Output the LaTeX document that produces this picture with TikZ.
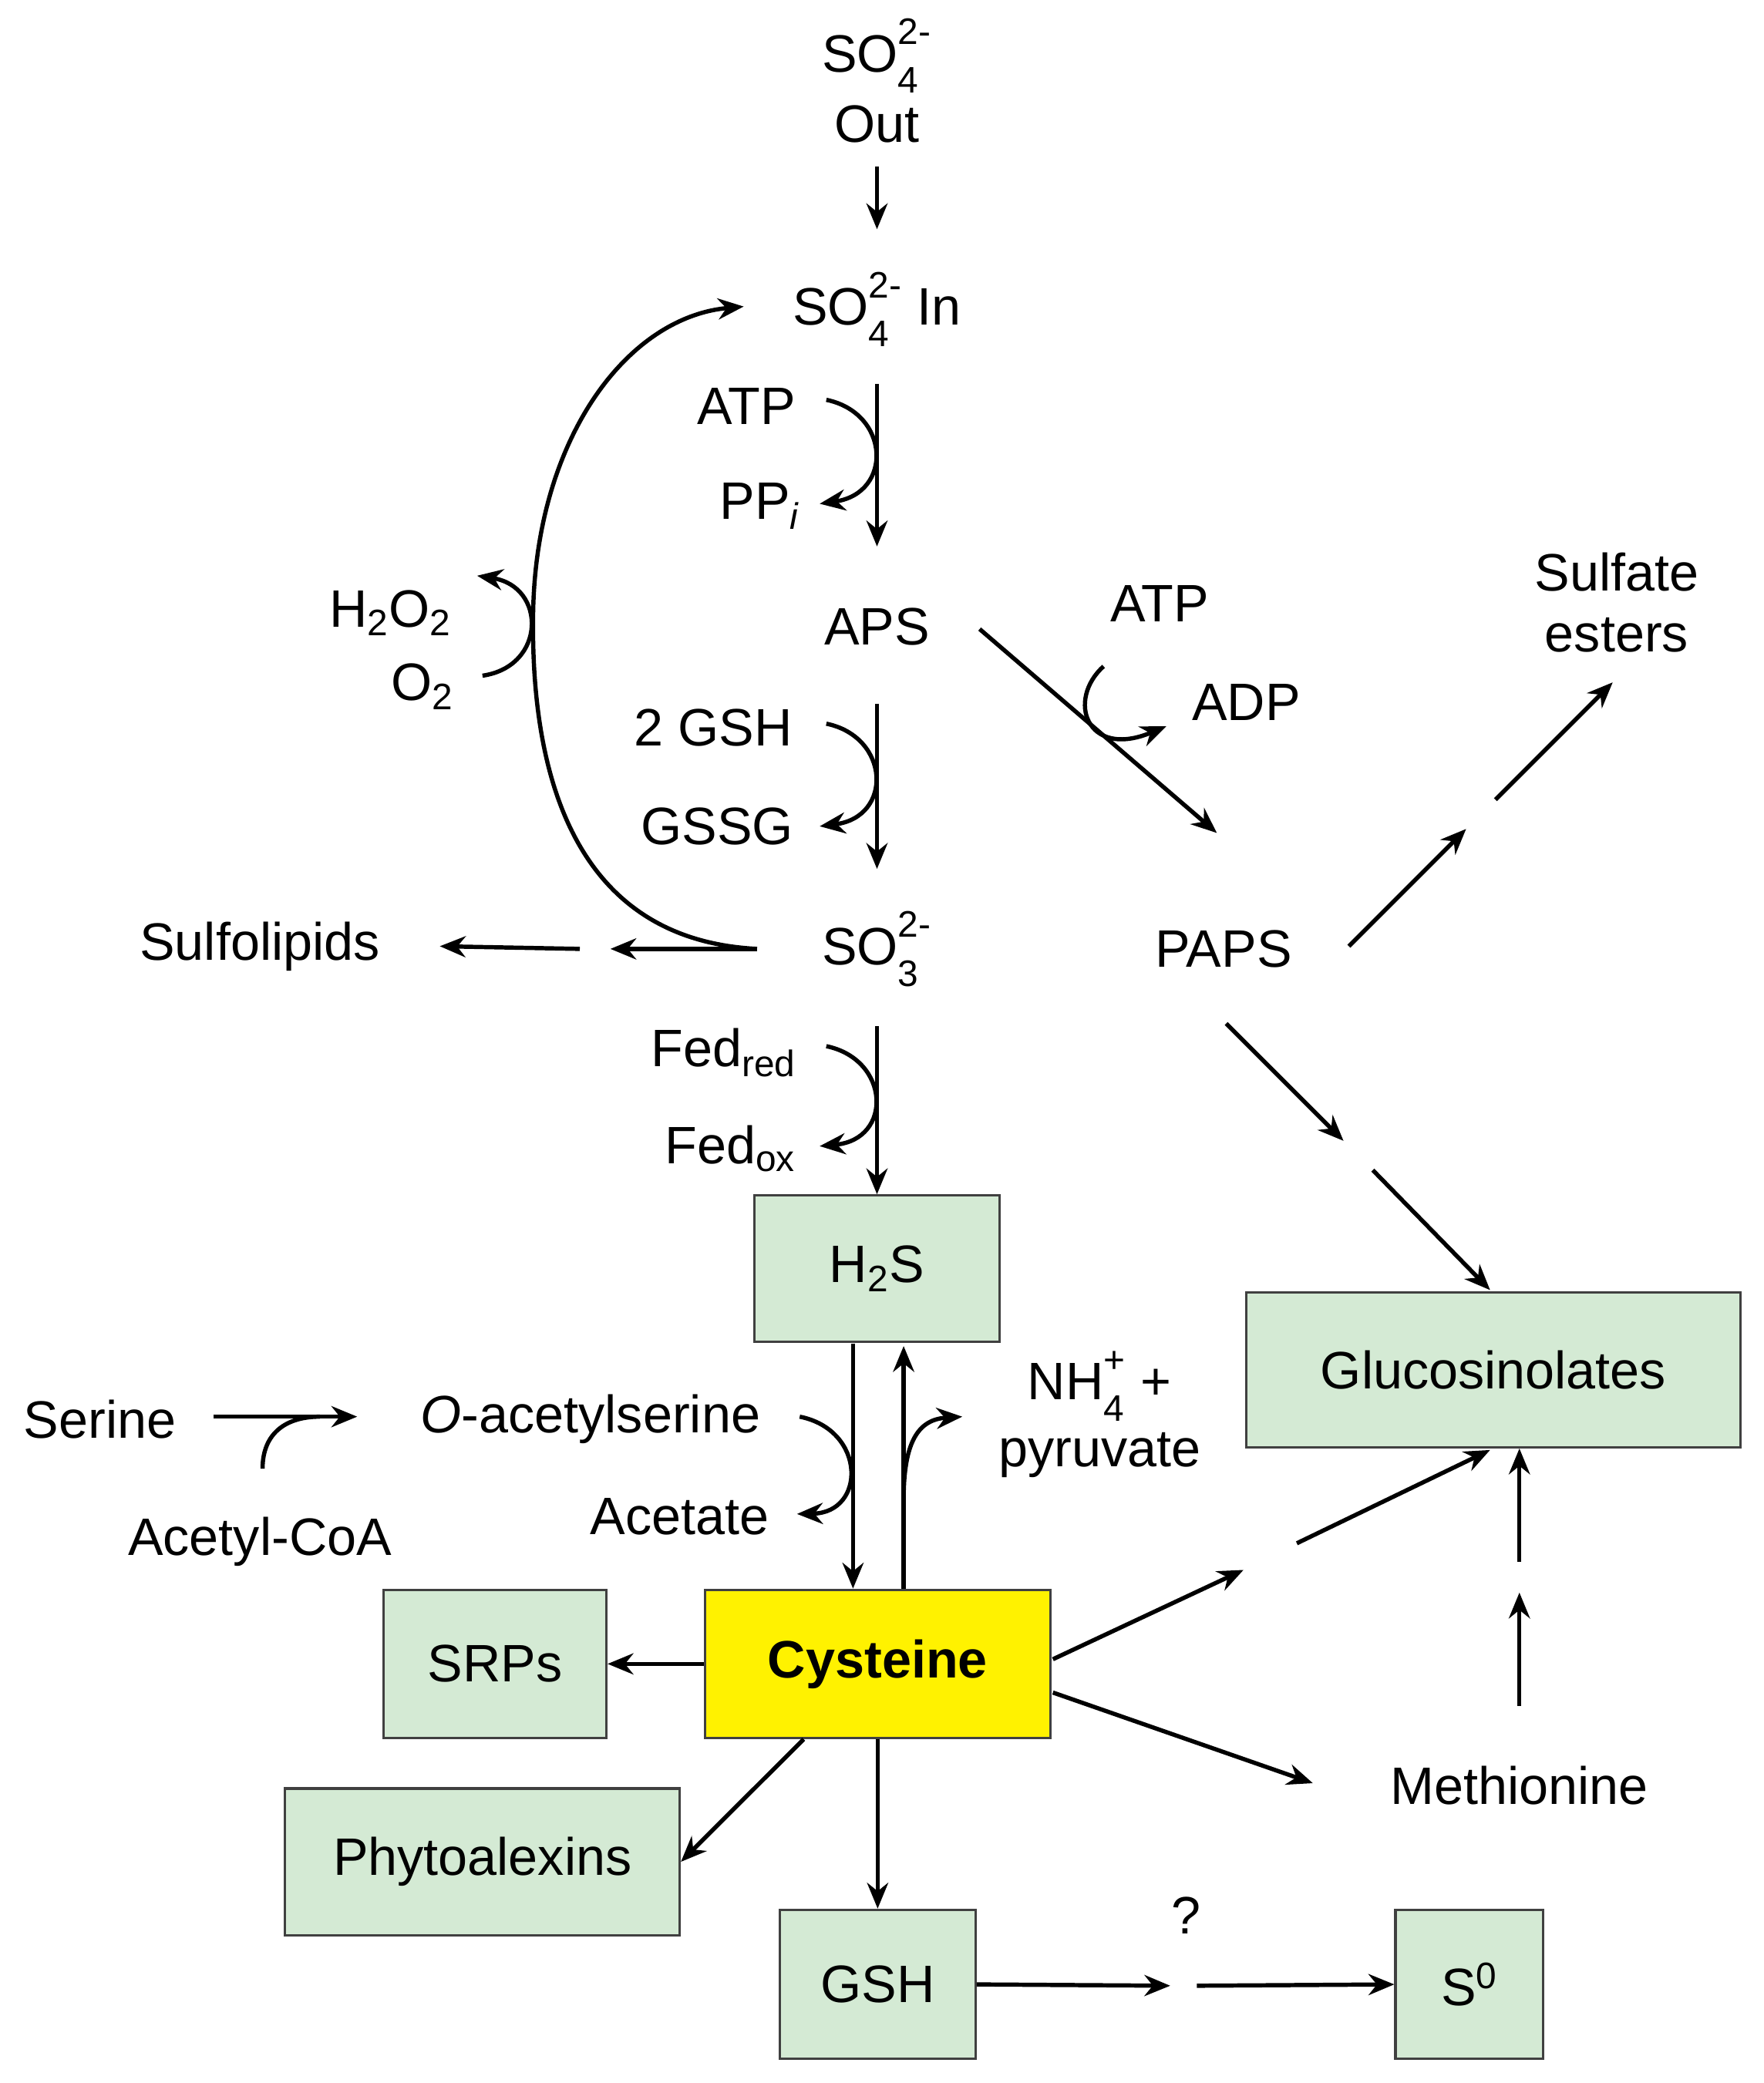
\documentclass[tikz,border=0pt]{standalone}
\usepackage{fontspec}
\setmainfont{Liberation Sans}
\usetikzlibrary{arrows.meta}
\newcommand{\sbsp}[2]{\rlap{\raisebox{-0.45ex}{\textsubscript{#1}}}\raisebox{0.35ex}{\textsuperscript{#2}}}
\begin{document}
\begin{tikzpicture}[x=0.02cm,y=-0.02cm,
  every node/.style={font=\fontsize{22.5}{26}\selectfont, inner sep=0pt},
  ar/.style={line width=1.8pt,-{Stealth[length=11pt,width=9pt]}},
  ln/.style={line width=1.8pt},
  box/.style={draw=black!75, line width=1pt, fill={rgb,255:red,212;green,234;blue,212}}]
\useasboundingbox (0,0) rectangle (1323,1563);
% text nodes
\node (out1) at (658,42) {SO\sbsp{4}{2-}};
\node (out2) at (658,93) {Out};
\node (in) at (658,232) {SO\sbsp{4}{2-} In};
\node (atp1) at (560,305) {ATP};
\node (ppi) at (570,380) {PP\textsubscript{\itshape i}};
\node (aps) at (658,470) {APS};
\node (gsh2) at (535,546) {2 GSH};
\node (gssg) at (538,620) {GSSG};
\node (so3) at (658,712) {SO\sbsp{3}{2-}};
\node (fedr) at (543,790) {Fed\textsubscript{red}};
\node (fedo) at (548,862) {Fed\textsubscript{ox}};
\node (h2o2) at (293,460) {H\textsubscript{2}O\textsubscript{2}};
\node (o2) at (317,515) {O\textsubscript{2}};
\node (sulfo) at (195,710) {Sulfolipids};
\node (paps) at (918,712) {PAPS};
\node (atp2) at (870,453) {ATP};
\node (adp) at (935,527) {ADP};
\node[align=center] (se) at (1213,452) {Sulfate\\esters};
\node (serine) at (75,1065) {Serine};
\node (acoa) at (195,1157) {Acetyl-CoA};
\node (oas) at (443,1065) {\textit{O}-acetylserine};
\node (acet) at (510,1138) {Acetate};
\node (nh4) at (825,1040) {NH\sbsp{4}{+} +};
\node (pyr) at (825,1092) {pyruvate};
\node (meth) at (1140,1340) {Methionine};
\node (q) at (890,1437) {?};
% boxes
\node[box, minimum width=184*0.02cm, minimum height=110*0.02cm] (h2s) at (658,952) {H\textsubscript{2}S};
\node[draw=black!75, line width=1pt, fill=yellow, minimum width=259*0.02cm, minimum height=111*0.02cm, font=\fontsize{22.5}{26}\selectfont\bfseries] (cys) at (658.5,1248.5) {Cysteine};
\node[box, minimum width=167*0.02cm, minimum height=111*0.02cm] (srp) at (371.5,1248.5) {SRPs};
\node[box, minimum width=296*0.02cm, minimum height=110*0.02cm] (phy) at (362,1397) {Phytoalexins};
\node[box, minimum width=147*0.02cm, minimum height=112*0.02cm] (gsh) at (658.5,1489) {GSH};
\node[box, minimum width=111*0.02cm, minimum height=112*0.02cm] (s0) at (1102.5,1489) {S\textsuperscript{0}};
\node[box, minimum width=371*0.02cm, minimum height=116*0.02cm] (glu) at (1120.5,1028) {Glucosinolates};
% coordinates
\coordinate (c1) at (878,1490); \coordinate (c2) at (898,1490);
\coordinate (c3) at (1140,1195); \coordinate (c4) at (1140,1172);
\coordinate (c5) at (933,1178); \coordinate (c6) at (973,1158);
\coordinate (c7) at (1100,622); \coordinate (c8) at (1122,600);
\coordinate (c9) at (1008,856); \coordinate (c10) at (1030,878);
\coordinate (c11) at (458,712); \coordinate (c12) at (435,712);
% main chain
\draw[ar] (658,125) -- (658,172);
\draw[ar] (658,288) -- (658,410);
\draw[ar] (658,528) -- (658,652);
\draw[ar] (658,770) -- (h2s.north);
\draw[ar] (620,300) .. controls (668,310) and (670,370) .. (615,378);
\draw[ar] (620,543) .. controls (668,553) and (670,613) .. (615,620);
\draw[ar] (620,785) .. controls (668,795) and (670,855) .. (615,860);
% H2S / cysteine
\draw[ar] (640,1008) -- (640,1192);
\draw[ar] (678,1192) -- (678,1010);
\draw[ar] (600,1063) .. controls (650,1073) and (650,1135) .. (598,1136);
\draw[ar] (678,1125) .. controls (678,1080) and (690,1065) .. (722,1063);
\draw[ar] (160,1063) -- (268,1063);
\draw[ln] (197,1102) .. controls (197,1075) and (215,1063) .. (240,1063);
% cysteine outputs
\draw[ar] (cys.west) -- (srp.east);
\draw[ar] (603,1305) -- (phy.east);
\draw[ar] (cys.south) -- (gsh.north);
\draw[ar] (gsh.east) -- (c1);
\draw[ar] (c2) -- (s0.west);
\draw[ar] (790,1270) -- (985,1338);
\draw[ar] (790,1245) -- (c5);
\draw[ar] (c6) -- (1118,1088);
\draw[ar] (1140,1280) -- (c3);
\draw[ar] (c4) -- (glu.south -| 1140,0);
% APS / PAPS
\draw[ar] (735,472) -- (913,625);
\draw[ar] (828,500) .. controls (800,525) and (815,570) .. (875,545);
\draw[ar] (1012,710) -- (c7);
\draw[ar] (c8) -- (1210,512);
\draw[ar] (920,768) -- (c9);
\draw[ar] (c10) -- (1118,968);
% sulfolipids and loop
\draw[ar] (568,712) -- (c11);
\draw[ar] (c12) -- (330,710);
\draw[ar] (568,712) .. controls (430,705) and (398,580) .. (400,460) .. controls (402,330) and (470,238) .. (558,230);
\draw[ar] (362,507) .. controls (410,500) and (410,440) .. (358,432);
\end{tikzpicture}
\end{document}
